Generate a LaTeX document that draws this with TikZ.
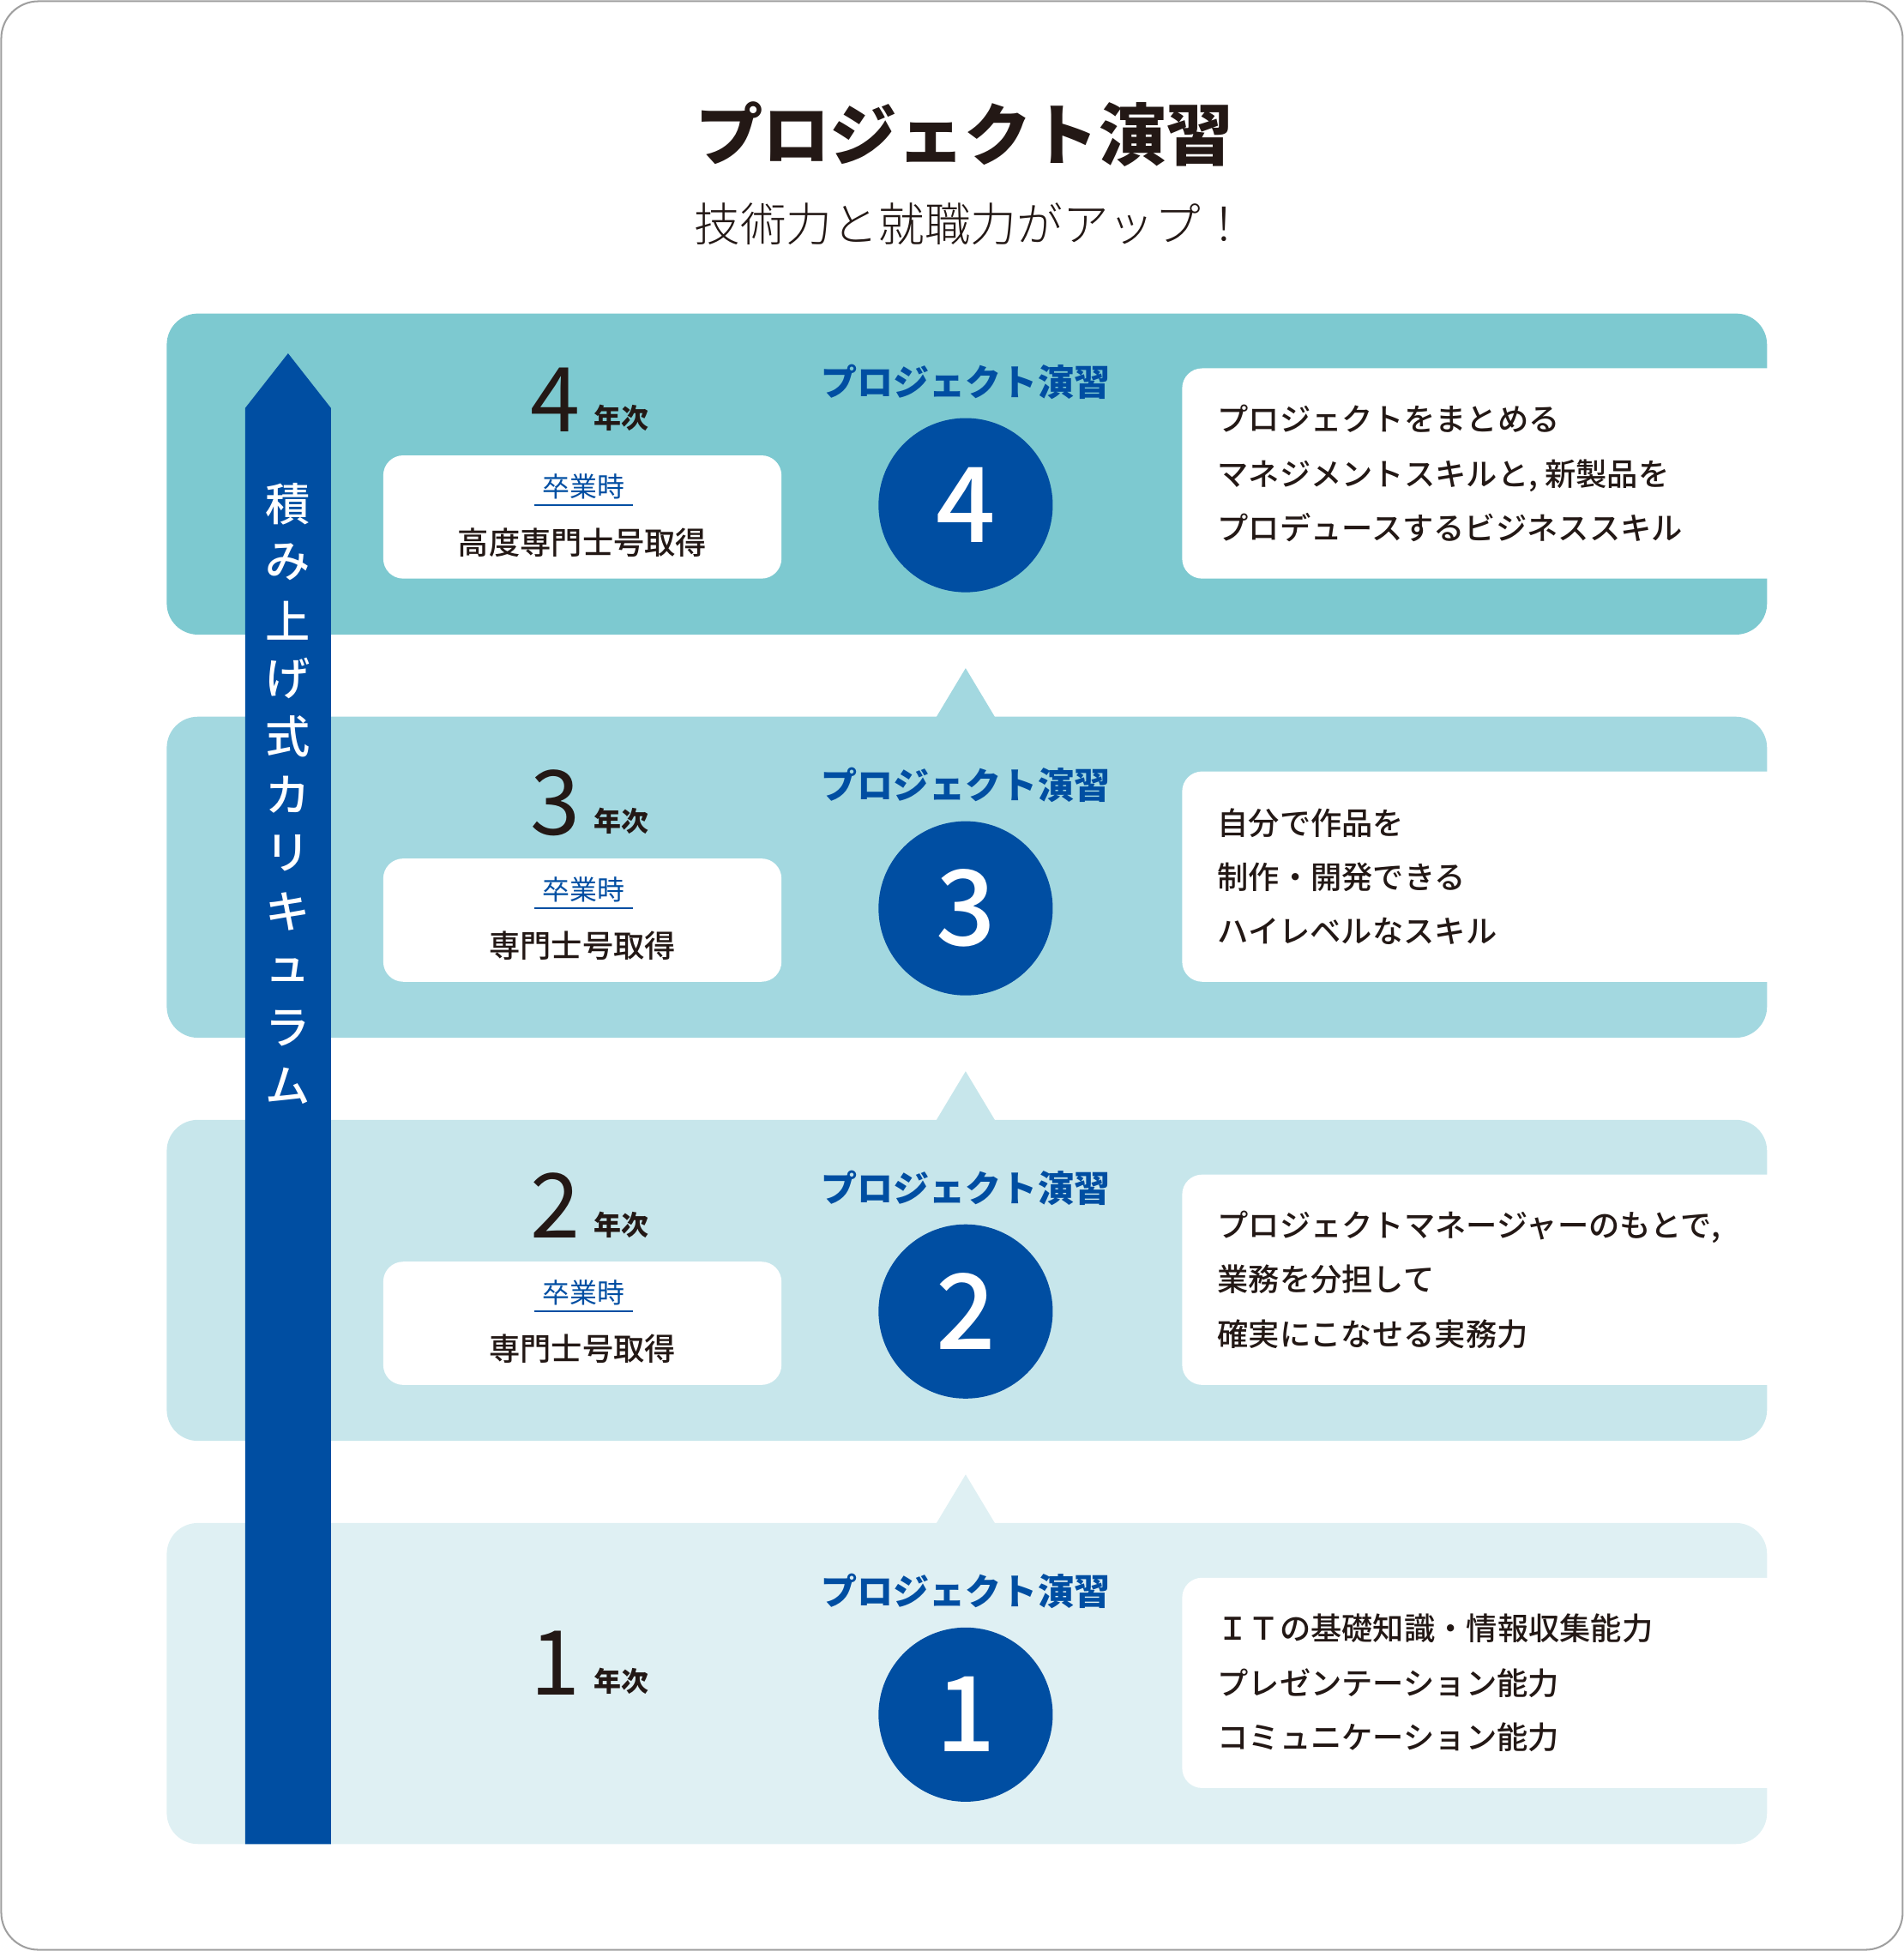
\documentclass[tikz,border=0pt]{standalone}
\usepackage{fontspec}
\setmainfont{Noto Sans CJK JP}
\newfontfamily\medfont{Noto Sans CJK JP Medium}
\newfontfamily\litefont{Noto Sans CJK JP Light}
\usetikzlibrary{calc}
\definecolor{cblue}{HTML}{004EA2}
\definecolor{pfour}{HTML}{7DC9D0}
\definecolor{pthree}{HTML}{A3D8E0}
\definecolor{ptwo}{HTML}{C7E6EB}
\definecolor{pone}{HTML}{DFF0F3}
\definecolor{ink}{HTML}{231815}
\tikzset{
  plabel/.style={inner sep=0pt,text=cblue,font=\bfseries\fontsize{14.5}{17}\selectfont},
  stepdot/.style={circle,fill=cblue,minimum size=70pt,inner sep=0pt,text=white,font=\medfont\fontsize{42}{48}\selectfont},
  skill/.style={anchor=west,inner sep=0pt,align=left,text=ink,font=\medfont\fontsize{12.5}{21.85}\selectfont},
  yearno/.style={anchor=base,inner sep=0pt,text=ink,font=\fontsize{36}{40}\selectfont},
  yearsuf/.style={anchor=base west,inner sep=0pt,text=ink,font=\bfseries\fontsize{11}{13}\selectfont},
  gradlabel/.style={inner sep=0pt,text=cblue,font=\fontsize{11}{13}\selectfont},
  degree/.style={inner sep=0pt,text=ink,font=\medfont\fontsize{12.5}{15}\selectfont},
  vlabel/.style={inner sep=0pt,text=white,font=\medfont\fontsize{18}{20}\selectfont}
}
\newcommand{\stage}[4]
{   \fill[#3,rounded corners=12.5pt] (134,#2) rectangle (1420,{#2+258});
    \fill[white,rounded corners=8pt] (950,{#2+44}) rectangle (1460,{#2+213});
    \node[plabel] (pl#1) at (776,{#2+55}) {プロジェクト演習};
    \node[stepdot] (st#1) at (776,{#2+154}) {#1};
    \node[skill] (sk#1) at (978,{#2+128.5}) {#4};
}
\newcommand{\gradbox}[3]
{   \node[yearno] (yr#1) at (446,{#2+95}) {#1};
    \node[yearsuf] (ys#1) at (477,{#2+92.5}) {年次};
    \fill[white,rounded corners=8pt] (308,{#2+114}) rectangle (628,{#2+213});
    \node[gradlabel] (gl#1) at (469,{#2+139}) {卒業時};
    \draw[cblue,line width=0.7pt] ([xshift=-3pt,yshift=-2.3pt]gl#1.south west) -- ([xshift=3pt,yshift=-2.3pt]gl#1.south east);
    \node[degree] (dg#1) at (468,{#2+184}) {#3};
}

\begin{document}
\begin{tikzpicture}[x=0.5pt,y=-0.5pt]
 \useasboundingbox (0,0) rectangle (1530,1568);
 \draw[gray!75,line width=0.7pt,rounded corners=15pt] (1,1) rectangle (1529,1567);

 \node[text=ink,inner sep=0pt,font=\bfseries\fontsize{27}{32}\selectfont] (title) at (775,108) {プロジェクト演習};
 \node[text=ink,inner sep=0pt,font=\litefont\fontsize{18.5}{22}\selectfont] (sub) at (780,180) {技術力と就職力がアップ！};

 \stage{4}{252}{pfour}{プロジェクトをまとめる\\マネジメントスキルと, 新製品を\\プロデュースするビジネススキル}
 \stage{3}{576}{pthree}{自分で作品を\\制作・開発できる\\ハイレベルなスキル}
 \stage{2}{900}{ptwo}{プロジェクトマネージャーのもとで,\\業務を分担して\\確実にこなせる実務力}
 \stage{1}{1224}{pone}{ＩＴの基礎知識・情報収集能力\\プレゼンテーション能力\\コミュニケーション能力}
 \foreach \t/\c in {576/pthree,900/ptwo,1224/pone}
   \fill[\c] (752,{\t+1}) -- (776,{\t-39}) -- (800,{\t+1}) -- cycle;

 \fill[cblue] (197,1482) -- (197,328) -- (231.5,284) -- (266,328) -- (266,1482) -- cycle;
 \foreach \c [count=\i from 0] in {積,み,上,げ,式,カ,リ,キ,ュ,ラ,ム}
   \node[vlabel] (v\i) at (231.5,{405+46.8*\i}) {\c};

 \gradbox{4}{252}{高度専門士号取得}
 \gradbox{3}{576}{専門士号取得}
 \gradbox{2}{900}{専門士号取得}
 \node[yearno] (yr1) at (446,1362) {1};
 \node[yearsuf] (ys1) at (477,1359.5) {年次};

\end{tikzpicture}
\end{document}
